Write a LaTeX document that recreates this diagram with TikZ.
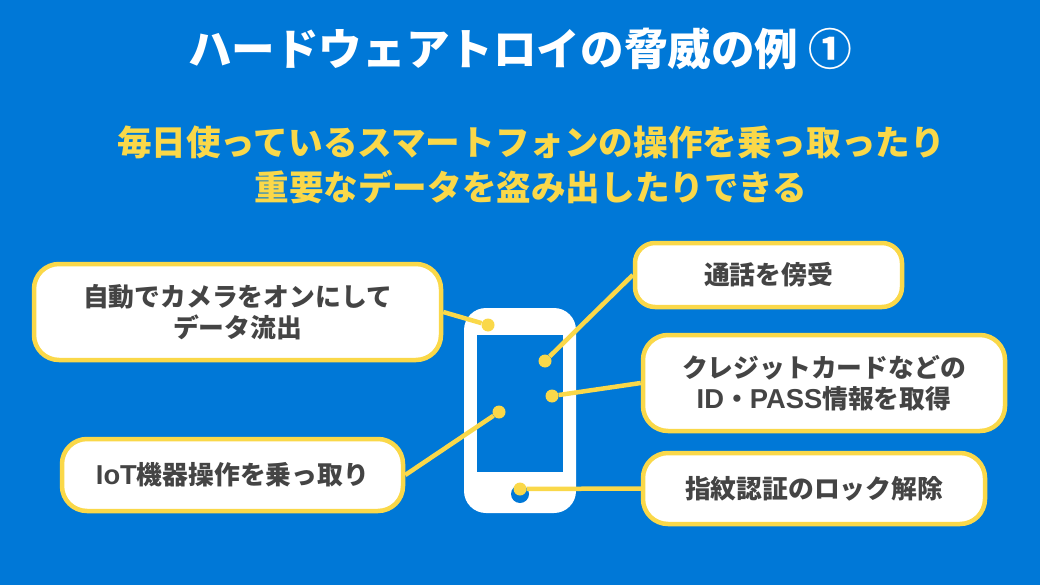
\documentclass[tikz,border=0pt]{standalone}
\usepackage{fontspec}
\setmainfont{Noto Sans CJK JP}
\newfontfamily\latinfont{Liberation Sans}[Scale=1.06]
\usetikzlibrary{positioning}
\definecolor{bgblue}{RGB}{0,120,215}
\definecolor{markyellow}{RGB}{250,216,73}
\definecolor{darktext}{RGB}{68,68,68}

\begin{document}
\begin{tikzpicture}[
            x=1pt, y=-1pt,
            font=\bfseries,
            callout/.style={draw=markyellow, line width=4.5pt, rounded corners=25pt, fill=white, align=center, text=darktext, font=\fontsize{25.8}{31}\selectfont\bfseries},
            dot/.style={circle, fill=markyellow, inner sep=0pt, minimum size=13pt},
            link/.style={draw=markyellow, line width=4.5pt}
        ]
            \useasboundingbox (0,0) rectangle (1040,585);
            \fill[bgblue] (0,0) rectangle (1040,585);

            \node[text=white, font=\fontsize{43.6}{50}\selectfont\bfseries] (title) at (520,49) {ハードウェアトロイの脅威の例 ①};
            \node[text=markyellow, align=center, font=\fontsize{34.6}{45}\selectfont\bfseries] (lead) at (531,165) {毎日使っているスマートフォンの操作を乗っ取ったり\\重要なデータを盗み出したりできる};

            % phone
            \node[fill=white, rounded corners=22pt, minimum width=112pt, minimum height=205pt, inner sep=0pt] (phone) at (520,410.5) {};
            \node[fill=bgblue, minimum width=86.5pt, minimum height=137pt, inner sep=0pt] (screen) at (520,403.5) {};
            \node[circle, fill=bgblue, minimum size=18pt, inner sep=0pt] (homekey) at (520,494) {};

            % callouts
            \node[callout, minimum width=407pt, minimum height=96pt] (camera) at (237.5,312) {自動でカメラをオンにして\\データ流出};
            \node[callout, minimum width=341pt, minimum height=72pt] (iot) at (232.5,475) {{\latinfont IoT}機器操作を乗っ取り};
            \node[callout, minimum width=267pt, minimum height=64pt, rounded corners=20pt] (call) at (768.5,275) {通話を傍受};
            \node[callout, minimum width=362pt, minimum height=96pt] (card) at (824,383) {クレジットカードなどの\\{\latinfont ID}・{\latinfont PASS}情報を取得};
            \node[callout, minimum width=342pt, minimum height=71pt] (finger) at (814,488.5) {指紋認証のロック解除};

            % markers
            \node[dot] (dcamera) at (488,325) {};
            \node[dot] (dcall) at (545,361) {};
            \node[dot] (dcard) at (552,396) {};
            \node[dot] (diot) at (499,412) {};
            \node[dot] (dfinger) at (520,489) {};

            \draw[link] (camera.east) -- (dcamera);
            \draw[link] (call.west) -- (dcall);
            \draw[link] (card.west) -- (dcard);
            \draw[link] (iot.east) -- (diot);
            \draw[link] (finger.west) -- (dfinger);
        \end{tikzpicture}
\end{document}
